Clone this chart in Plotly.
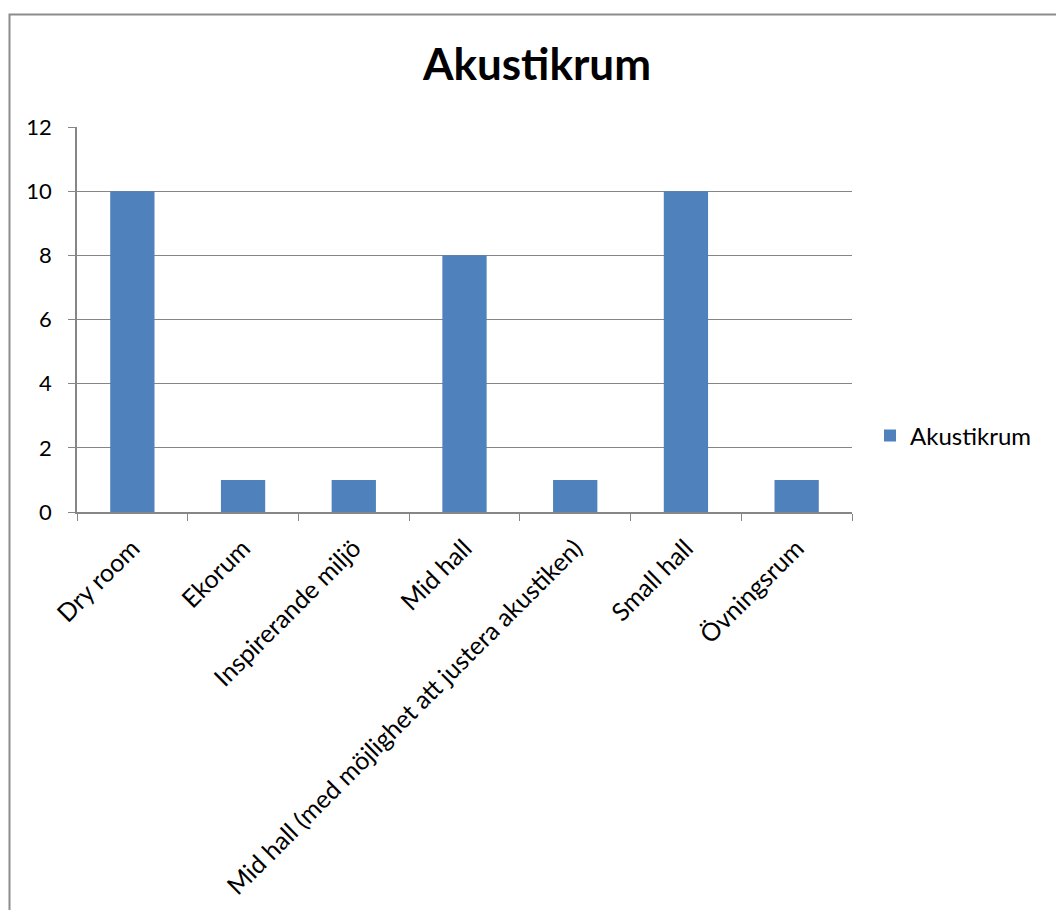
import plotly.graph_objects as go

categories = ["Dry room", "Ekorum", "Inspirerande miljö", "Mid hall",
              "Mid hall (med möjlighet att justera akustiken)", "Small hall", "Övningsrum"]
values = [10, 1, 1, 8, 1, 10, 1]
series_name = "Akustikrum"
y_ticks = [0, 2, 4, 6, 8, 10, 12]

W, H = 1056, 910
L, R, T, B = 77, 852, 127, 512

fig = go.Figure()
fig.add_trace(go.Bar(x=categories, y=values, name=series_name,
                     marker=dict(color="#4F81BD", line=dict(width=0))))

font = "Lato, Carlito, 'Open Sans', sans-serif"
gray = "#868686"

fig.update_layout(
    width=W, height=H,
    margin=dict(l=L, r=W - R, t=T, b=H - B, autoexpand=False),
    paper_bgcolor="white", plot_bgcolor="white",
    bargap=0.6,
    showlegend=True,
    title=dict(text="<b>Akustikrum</b>", x=537 / W, xanchor="center",
               y=1 - 65 / H, yanchor="middle",
               font=dict(family=font, size=44, color="black")),
    legend=dict(x=(870 - L) / (R - L), y=(B - 436) / (B - T), xanchor="left", yanchor="middle",
                font=dict(family=font, size=24, color="black"),
                itemwidth=30, bgcolor="rgba(0,0,0,0)"),
    font=dict(family=font, size=24, color="black"),
)
fig.update_xaxes(showline=True, linecolor=gray, linewidth=1.5,
                 ticks="outside", tickson="boundaries", ticklen=7, tickcolor=gray,
                 tickangle=-45, tickfont=dict(size=25), showgrid=False,
                 ticklabelstandoff=10)
fig.update_yaxes(range=[0, 12], tickvals=y_ticks, showgrid=True, gridcolor=gray, gridwidth=1.2,
                 showline=True, linecolor=gray, linewidth=1.5, zeroline=False,
                 ticks="outside", ticklen=7, tickcolor=gray, tickfont=dict(size=22),
                 ticklabelstandoff=12)

# chart area border
fig.add_shape(type="rect", xref="paper", yref="paper",
              x0=(9.5 - L) / (R - L), x1=1.5, y0=-1.5, y1=(B - 14.5) / (B - T),
              line=dict(color="#8c8c8c", width=2), fillcolor="rgba(0,0,0,0)", layer="below")

fig.write_html("out.html")
